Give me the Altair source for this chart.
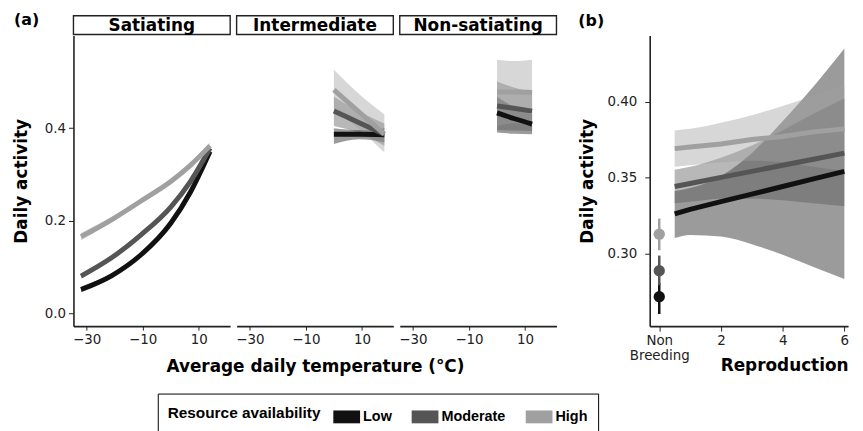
import altair as alt
import pandas as pd

groups = ["Low", "Moderate", "High"]
group_colors = ["#111111", "#555555", "#a0a0a0"]

# ---- Panel (a): Satiating ----
sat_temp = [-32, -21, -10.6, 0, 7, 14]
sat_fit_low = [0.052, 0.082, 0.127, 0.195, 0.262, 0.350]
sat_lo_low = [0.046, 0.077, 0.123, 0.191, 0.258, 0.344]
sat_hi_low = [0.058, 0.087, 0.131, 0.199, 0.266, 0.356]
sat_fit_mod = [0.081, 0.121, 0.170, 0.230, 0.285, 0.357]
sat_lo_mod = [0.075, 0.116, 0.166, 0.226, 0.281, 0.351]
sat_hi_mod = [0.087, 0.126, 0.174, 0.234, 0.289, 0.363]
sat_fit_high = [0.166, 0.203, 0.243, 0.285, 0.320, 0.362]
sat_lo_high = [0.158, 0.197, 0.239, 0.281, 0.316, 0.355]
sat_hi_high = [0.174, 0.209, 0.247, 0.289, 0.324, 0.369]

# ---- Panel (a): Intermediate ----
int_temp = [0, 9, 18]
int_fit_low = [0.387, 0.387, 0.386]
int_lo_low = [0.366, 0.376, 0.370]
int_hi_low = [0.400, 0.396, 0.400]
int_fit_mod = [0.437, 0.412, 0.387]
int_lo_mod = [0.405, 0.390, 0.362]
int_hi_mod = [0.468, 0.436, 0.410]
int_fit_high = [0.483, 0.435, 0.387]
int_lo_high = [0.440, 0.398, 0.348]
int_hi_high = [0.526, 0.474, 0.430]

# ---- Panel (a): Non-satiating ----
non_temp = [0, 6, 12.5]
non_fit_low = [0.433, 0.421, 0.409]
non_lo_low = [0.391, 0.388, 0.387]
non_hi_low = [0.468, 0.446, 0.430]
non_fit_mod = [0.448, 0.443, 0.437]
non_lo_mod = [0.396, 0.395, 0.394]
non_hi_mod = [0.501, 0.488, 0.480]
non_fit_high = [0.478, 0.478, 0.477]
non_lo_high = [0.405, 0.410, 0.410]
non_hi_high = [0.548, 0.545, 0.548]

# ---- Panel (b): Reproduction ----
rep_x = [0.5, 1, 2, 3, 4, 5, 6]
rep_fit_low = [0.326, 0.329, 0.334, 0.339, 0.344, 0.349, 0.354]
rep_lo_low = [0.310, 0.312, 0.311, 0.306, 0.299, 0.291, 0.283]
rep_hi_low = [0.341, 0.343, 0.351, 0.366, 0.387, 0.410, 0.435]
rep_fit_mod = [0.344, 0.346, 0.350, 0.354, 0.358, 0.362, 0.366]
rep_lo_mod = [0.333, 0.334, 0.336, 0.336, 0.335, 0.333, 0.331]
rep_hi_mod = [0.355, 0.357, 0.363, 0.371, 0.381, 0.392, 0.402]
rep_fit_high = [0.369, 0.370, 0.372, 0.375, 0.377, 0.380, 0.382]
rep_lo_high = [0.357, 0.358, 0.360, 0.361, 0.360, 0.357, 0.354]
rep_hi_high = [0.381, 0.382, 0.386, 0.391, 0.397, 0.404, 0.411]

nb_x = [0, 0, 0]
nb_fit = [0.2714, 0.2885, 0.3126]
nb_lo = [0.260, 0.279, 0.302]
nb_hi = [0.2805, 0.2985, 0.3229]


def long_df(xs, series):
    rows = []
    for g, (fit, lo, hi) in zip(groups, series):
        for x, f, l, h in zip(xs, fit, lo, hi):
            rows.append({"x": x, "fit": f, "lo": l, "hi": h, "group": g})
    return pd.DataFrame(rows)


sat_df = long_df(sat_temp, [(sat_fit_low, sat_lo_low, sat_hi_low),
                            (sat_fit_mod, sat_lo_mod, sat_hi_mod),
                            (sat_fit_high, sat_lo_high, sat_hi_high)])
int_df = long_df(int_temp, [(int_fit_low, int_lo_low, int_hi_low),
                            (int_fit_mod, int_lo_mod, int_hi_mod),
                            (int_fit_high, int_lo_high, int_hi_high)])
non_df = long_df(non_temp, [(non_fit_low, non_lo_low, non_hi_low),
                            (non_fit_mod, non_lo_mod, non_hi_mod),
                            (non_fit_high, non_lo_high, non_hi_high)])
rep_df = long_df(rep_x, [(rep_fit_low, rep_lo_low, rep_hi_low),
                         (rep_fit_mod, rep_lo_mod, rep_hi_mod),
                         (rep_fit_high, rep_lo_high, rep_hi_high)])
nb_df = pd.DataFrame({"x": nb_x, "fit": nb_fit, "lo": nb_lo, "hi": nb_hi, "group": groups})

W_A = 158
H = 293
W_B = 200
GAP = 6.5
SPACER = 81
OPA = 0.42

FONT = "DejaVu Sans"
LEG_FONT = "Liberation Sans"

temp_scale = alt.Scale(domain=[-34.7, 21.2], nice=False, zero=False)
act_scale = alt.Scale(domain=[-0.027, 0.60], nice=False, zero=False)
rep_x_scale = alt.Scale(domain=[-0.31, 6.12], nice=False, zero=False)
rep_y_scale = alt.Scale(domain=[0.252, 0.4435], nice=False, zero=False)
fill_scale = alt.Scale(domain=groups, range=group_colors)

legend = alt.Legend(
    title="Resource availability", orient="none", legendX=85, legendY=361,
    direction="horizontal", titleOrient="left",
    titleFont=LEG_FONT, titleFontSize=15.5, titleFontWeight="bold", titleColor="black",
    labelFont=LEG_FONT, labelFontSize=14.5, labelFontWeight="bold", labelColor="black",
    symbolType="M-1,-0.48H1V0.48H-1Z", symbolSize=729, symbolStrokeWidth=0,
    symbolOpacity=1, columnPadding=20, labelOffset=3, titlePadding=12,
    padding=10, strokeColor="black",
)


def x_axis_a(title):
    kw = dict(values=[-30, -20, -10, 0, 10, 20],
              labelExpr="datum.value % 20 == 0 ? '' : datum.label",
              tickSize=4, labelPadding=3, domainWidth=1.6, titlePadding=12)
    return alt.Axis(title=title, **kw)


def panel_a(df, label, y_axis, x_title, tag):
    base = alt.Chart(df)
    ribbon = base.mark_area(opacity=OPA, interpolate="monotone").encode(
        x=alt.X("x:Q", scale=temp_scale, axis=x_axis_a(x_title)),
        y=alt.Y("lo:Q", scale=act_scale, axis=y_axis),
        y2="hi:Q",
        fill=alt.Fill("group:N", scale=fill_scale, legend=legend),
        detail="group:N",
    )
    line = base.mark_line(strokeWidth=5, interpolate="monotone").encode(
        x="x:Q", y="fit:Q",
        color=alt.Color("group:N", scale=fill_scale, legend=None),
    )
    sdf = pd.DataFrame({"label": [label]})
    strip = alt.Chart(sdf).mark_rect(fill="white", stroke="#222", strokeWidth=1.4).encode(
        x=alt.value(0), x2=alt.value(W_A), y=alt.value(-20), y2=alt.value(-1))
    stext = alt.Chart(sdf).mark_text(font=FONT, fontSize=17, fontWeight="bold",
                                     baseline="middle", align="center", color="black").encode(
        x=alt.value(W_A / 2), y=alt.value(-10), text="label:N")
    layers = [ribbon, line, strip, stext]
    if tag:
        tdf = pd.DataFrame({"t": [tag]})
        layers.append(alt.Chart(tdf).mark_text(font=FONT, fontSize=16, fontWeight="bold",
                                               align="left", baseline="middle", color="black").encode(
            x=alt.value(-60), y=alt.value(-16), text="t:N"))
    return alt.layer(*layers).properties(width=W_A, height=H)


y_axis_a = alt.Axis(title="Daily activity", values=[0, 0.2, 0.4], format=".1f",
                    tickSize=5, labelPadding=3, titlePadding=14, domainWidth=1.6)

a1 = panel_a(sat_df, "Satiating", y_axis_a, None, "(a)")
a2 = panel_a(int_df, "Intermediate", None, "Average daily temperature (°C)", None)
a3 = panel_a(non_df, "Non-satiating", None, None, None)

# empty spacer between the two figure parts
spacer = alt.Chart(pd.DataFrame({"s": [0]})).mark_point(opacity=0).encode(
    x=alt.value(0), y=alt.value(0)).properties(width=SPACER, height=H)

# ---- Panel b ----
bx_axis = alt.Axis(title="Reproduction", values=[0, 2, 4, 6],
                   labelExpr="datum.value == 0 ? ['Non', 'Breeding'] : datum.label",
                   labelLineHeight=15, tickSize=5, labelPadding=3, domainWidth=1.6,
                   titleAnchor="end", titleY=32, titleBaseline="top")
by_axis = alt.Axis(title="Daily activity", values=[0.30, 0.35, 0.40], format=".2f",
                   tickSize=5, labelPadding=8, titlePadding=11, domainWidth=1.6)

b_base = alt.Chart(rep_df)
b_ribbon = b_base.mark_area(opacity=OPA, interpolate="monotone").encode(
    x=alt.X("x:Q", scale=rep_x_scale, axis=bx_axis),
    y=alt.Y("lo:Q", scale=rep_y_scale, axis=by_axis),
    y2="hi:Q",
    fill=alt.Fill("group:N", scale=fill_scale, legend=legend),
    detail="group:N",
)
b_line = b_base.mark_line(strokeWidth=5).encode(
    x="x:Q", y="fit:Q", color=alt.Color("group:N", scale=fill_scale, legend=None))
nb = alt.Chart(nb_df)
b_err = nb.mark_rule(strokeWidth=2.5).encode(
    x="x:Q", y="lo:Q", y2="hi:Q", color=alt.Color("group:N", scale=fill_scale, legend=None))
b_pts = nb.mark_circle(size=130, opacity=1).encode(
    x="x:Q", y="fit:Q", color=alt.Color("group:N", scale=fill_scale, legend=None))
btag = alt.Chart(pd.DataFrame({"t": ["(b)"]})).mark_text(
    font=FONT, fontSize=16, fontWeight="bold", align="left", baseline="middle", color="black").encode(
    x=alt.value(-72), y=alt.value(-15), text="t:N")

b = alt.layer(b_ribbon, b_line, b_err, b_pts, btag).properties(width=W_B, height=H)

chart = alt.hconcat(a1, a2, a3, spacer, b, spacing=GAP, bounds="flush").properties(
    padding={"left": 4, "top": 2, "right": 0, "bottom": 0}
).configure_view(stroke=None).configure_axis(
    labelFont=FONT, labelFontSize=13.5, labelColor="#222",
    titleFont=FONT, titleFontSize=17, titleFontWeight="bold", titleColor="black",
    domainColor="#222", tickColor="#222", grid=False,
)

chart.save("out.html", embed_options={"renderer": "svg", "actions": False})
